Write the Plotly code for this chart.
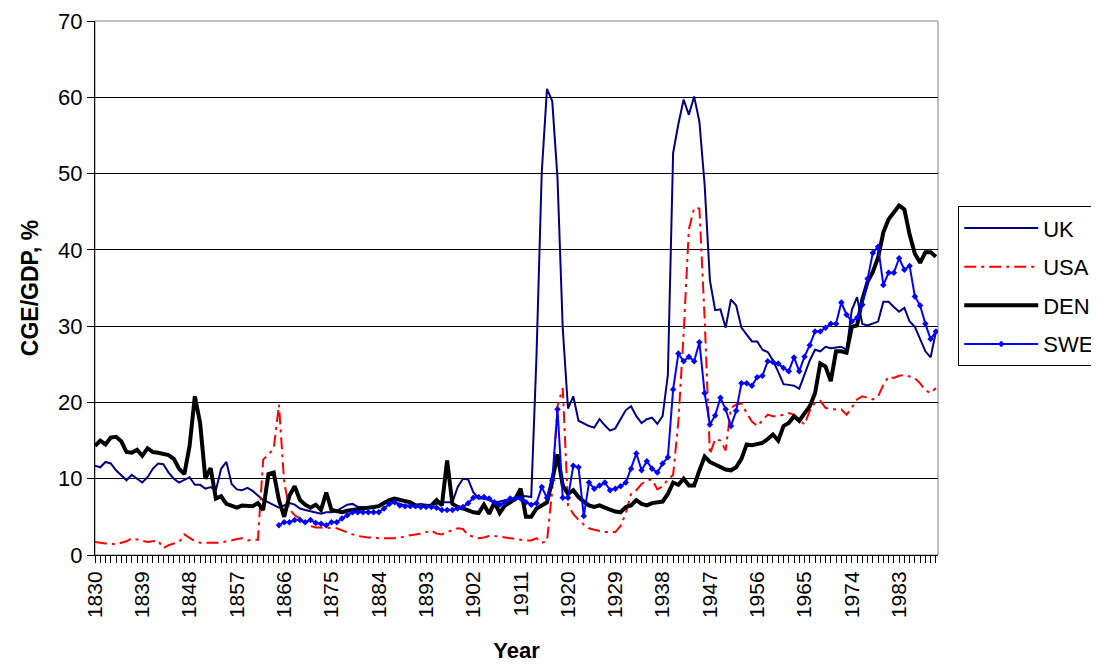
import plotly.graph_objects as go

years = list(range(1830, 1991))

uk = [
    11.7, 11.5, 12.2, 12.0, 11.1, 10.4, 9.8, 10.5, 10.0, 9.5,
    10.2, 11.3, 12.0, 11.9, 10.8, 10.0, 9.5, 9.8, 10.2, 9.2,
    9.2, 8.7, 8.9, 8.5, 11.3, 12.2, 9.3, 8.6, 8.5, 8.8,
    8.4, 7.8, 7.2, 6.9, 6.5, 6.2, 6.5, 6.8, 6.6, 6.1,
    5.9, 5.7, 5.5, 5.4, 5.6, 5.6, 5.8, 6.2, 6.6, 6.7,
    6.3, 6.3, 6.2, 6.1, 6.5, 7.0, 7.1, 6.9, 6.6, 6.5,
    6.5, 6.6, 6.7, 6.6, 6.5, 6.7, 6.9, 6.9, 6.9, 8.9,
    10.0, 9.9, 8.2, 7.4, 7.4, 7.2, 6.9, 7.0, 7.2, 7.3,
    7.4, 7.8, 7.7, 7.6, 26.0, 50.1, 61.1, 59.5, 49.4, 29.7,
    19.2, 20.8, 17.6, 17.2, 16.9, 16.7, 17.8, 17.0, 16.3, 16.6,
    17.8, 19.0, 19.5, 18.2, 17.3, 17.8, 18.0, 17.2, 18.2, 23.6,
    52.7, 56.5, 59.7, 57.7, 60.1, 56.8, 48.5, 36.0, 32.1, 32.2,
    29.8, 33.5, 32.7, 29.8, 28.9, 28.0, 28.0, 26.9, 26.6, 25.5,
    24.0, 22.4, 22.3, 22.2, 21.8, 23.8, 25.5, 26.9, 26.7, 27.3,
    27.1, 27.2, 27.3, 26.9, 32.1, 33.8, 30.3, 30.1, 30.3, 30.6,
    33.2, 33.2, 32.5, 31.9, 32.4, 30.6, 29.9, 28.2, 26.7, 25.9,
    29.3,
]

usa = [
    1.7, 1.6, 1.5, 1.5, 1.4, 1.6, 1.8, 2.2, 2.0, 1.8,
    1.7, 1.8, 1.9, 0.9, 1.3, 1.5, 1.7, 2.7, 2.3, 1.8,
    1.6, 1.6, 1.6, 1.6, 1.6, 1.8, 1.9, 2.1, 2.2, 1.9,
    2.0, 2.0, 12.5, 13.2, 13.9, 19.7, 9.5, 6.0, 5.2, 4.8,
    4.3, 3.8, 3.6, 3.6, 3.5, 3.6, 3.5, 3.2, 3.0, 2.7,
    2.5, 2.4, 2.3, 2.3, 2.2, 2.2, 2.2, 2.2, 2.3, 2.4,
    2.6, 2.7, 2.8, 3.0, 3.2, 2.8, 2.7, 3.0, 3.3, 3.5,
    3.4, 2.6, 2.4, 2.2, 2.3, 2.5, 2.5, 2.4, 2.3, 2.2,
    2.1, 2.0, 1.9, 1.9, 2.2, 1.6, 1.8, 8.5, 19.5, 21.9,
    6.5, 5.4, 4.6, 4.0, 3.5, 3.3, 3.1, 3.0, 3.0, 3.0,
    3.8, 5.5, 8.0, 8.5, 9.3, 9.8, 9.9, 8.6, 9.0, 9.9,
    10.5, 17.5, 29.0, 42.7, 45.5, 45.4, 31.0, 13.2, 15.2, 15.0,
    13.7, 19.3, 19.7, 19.9, 18.6, 17.5, 16.9, 17.6, 18.4, 18.2,
    18.2, 18.4, 18.6, 18.4, 17.8, 17.1, 18.9, 20.0, 20.2, 19.3,
    19.1, 19.1, 19.1, 18.4, 19.3, 20.4, 20.8, 20.6, 20.4, 20.8,
    22.3, 23.4, 23.2, 23.5, 23.6, 23.4, 23.2, 22.5, 21.6, 21.2,
    21.9,
]

den = [
    14.3, 15.0, 14.5, 15.4, 15.5, 14.9, 13.5, 13.4, 13.8, 13.0,
    14.0, 13.5, 13.4, 13.3, 13.1, 12.6, 11.3, 10.6, 14.3, 20.8,
    17.3, 10.0, 11.4, 7.4, 7.7, 6.7, 6.4, 6.2, 6.5, 6.4,
    6.4, 6.8, 5.9, 10.6, 10.8, 7.2, 5.0, 7.8, 9.0, 7.2,
    6.6, 6.2, 6.6, 5.9, 8.2, 5.9, 5.8, 5.6, 5.8, 5.9,
    6.0, 6.1, 6.1, 6.2, 6.4, 6.8, 7.2, 7.4, 7.2, 7.1,
    6.9, 6.5, 6.4, 6.4, 6.5, 7.2, 6.5, 12.4, 6.7, 6.3,
    6.1, 5.8, 5.6, 5.5, 6.6, 5.4, 6.9, 5.5, 6.5, 6.9,
    7.4, 8.7, 5.0, 5.0, 6.1, 6.5, 6.9, 9.8, 13.2, 9.1,
    8.0, 8.5, 7.6, 7.0, 6.5, 6.3, 6.5, 6.2, 5.9, 5.7,
    5.6, 6.3, 6.5, 7.2, 6.7, 6.5, 6.8, 6.9, 7.0, 8.0,
    9.5, 9.2, 10.0, 9.1, 9.1, 11.1, 12.9, 12.2, 11.9, 11.6,
    11.2, 11.1, 11.5, 12.6, 14.5, 14.4, 14.5, 14.7, 15.2, 15.8,
    15.0, 16.9, 17.3, 18.2, 17.6, 18.5, 19.5, 21.2, 25.1, 24.7,
    22.8, 26.7, 26.7, 26.5, 29.9, 30.1, 33.5, 35.8, 37.1, 39.0,
    42.3, 44.0, 45.0, 45.8, 45.3, 42.0, 39.5, 38.3, 39.7, 39.7,
    39.1,
]

swe = [None] * 35 + [
    3.9, 4.3, 4.3, 4.6, 4.6,
    4.3, 4.6, 4.2, 4.1, 3.9, 4.3, 4.3, 4.8, 5.2, 5.6,
    5.6, 5.6, 5.6, 5.6, 5.6, 6.1, 6.7, 6.9, 6.5, 6.4,
    6.4, 6.4, 6.3, 6.3, 6.3, 6.2, 5.9, 5.9, 5.9, 6.1,
    6.3, 6.8, 7.5, 7.6, 7.6, 7.4, 6.9, 6.6, 6.9, 7.4,
    7.4, 7.4, 6.9, 6.6, 6.8, 8.9, 7.5, 9.8, 19.1, 7.5,
    7.5, 11.7, 11.5, 5.1, 9.5, 8.7, 9.1, 9.5, 8.5, 8.7,
    9.0, 9.5, 11.3, 13.3, 11.1, 12.3, 11.3, 10.8, 12.0, 12.8,
    21.7, 26.4, 25.4, 26.0, 25.4, 27.9, 21.2, 17.1, 18.3, 20.6,
    19.1, 16.9, 18.9, 22.5, 22.5, 22.2, 23.3, 23.5, 25.4, 25.3,
    25.1, 24.5, 24.1, 25.9, 24.1, 26.0, 27.5, 29.3, 29.3, 29.8,
    30.3, 30.3, 33.1, 31.5, 30.6, 31.1, 32.8, 36.2, 39.6, 40.4,
    35.4, 37.0, 37.0, 38.9, 37.4, 37.9, 33.9, 32.7, 30.3, 28.3,
    29.3,
]

tick_years = list(range(1830, 1990, 9))
tick_labels = [str(y) for y in tick_years]

FONT = "Liberation Sans, Arial, sans-serif"

fig = go.Figure()
fig.add_trace(go.Scatter(x=years, y=uk, name="UK", mode="lines", legendgroup="a",
                         line=dict(color="#000080", width=2)))
fig.add_trace(go.Scatter(x=years, y=usa, name="USA", mode="lines", legendgroup="b",
                         line=dict(color="#FF0000", width=2, dash="12px,5px,3px,5px")))
fig.add_trace(go.Scatter(x=years, y=den, name="DEN", mode="lines", legendgroup="c",
                         line=dict(color="#000000", width=4)))
fig.add_trace(go.Scatter(x=years, y=swe, name="SWE", mode="lines+markers", legendgroup="d",
                         line=dict(color="#0000FF", width=2),
                         marker=dict(symbol="diamond", size=5, color="#0000FF")))

fig.update_layout(
    width=1091, height=656,
    margin=dict(l=87, r=161, t=13, b=109, autoexpand=False),
    paper_bgcolor="white", plot_bgcolor="white",
    font=dict(family=FONT, color="black", size=21),
    showlegend=True,
    legend=dict(x=1.024, y=0.653, xanchor="left", yanchor="top",
                bordercolor="black", borderwidth=1, bgcolor="white",
                font=dict(size=22), traceorder="grouped", tracegroupgap=7,
                itemwidth=74),
    xaxis=dict(range=[1830, 1990.4], tickmode="array", tickvals=tick_years,
               ticktext=tick_labels, tickangle=-90, ticks="outside", ticklen=7,
               tickcolor="black", showline=True, linecolor="black", linewidth=1,
               showgrid=False, zeroline=False, tickfont=dict(size=21),
               ticklabeloverflow="allow",
               minor=dict(dtick=1, tick0=1830, ticks="outside", ticklen=7,
                          tickcolor="black", showgrid=False),
               title=dict(text="<b>Year</b>", font=dict(size=22), standoff=25)),
    yaxis=dict(range=[0, 70], dtick=10, ticks="outside", ticklen=7, tickcolor="black",
               showline=True, linecolor="black", linewidth=1,
               showgrid=True, gridcolor="black", gridwidth=1, zeroline=False,
               tickfont=dict(size=22), ticklabeloverflow="allow",
               title=dict(text="<b>CGE/GDP, %</b>", font=dict(size=23), standoff=13)),
    shapes=[dict(type="rect", xref="paper", yref="paper", x0=0, x1=1, y0=0, y1=1,
                 line=dict(color="#808080", width=1), layer="below")],
)

fig.write_html("out.html")
